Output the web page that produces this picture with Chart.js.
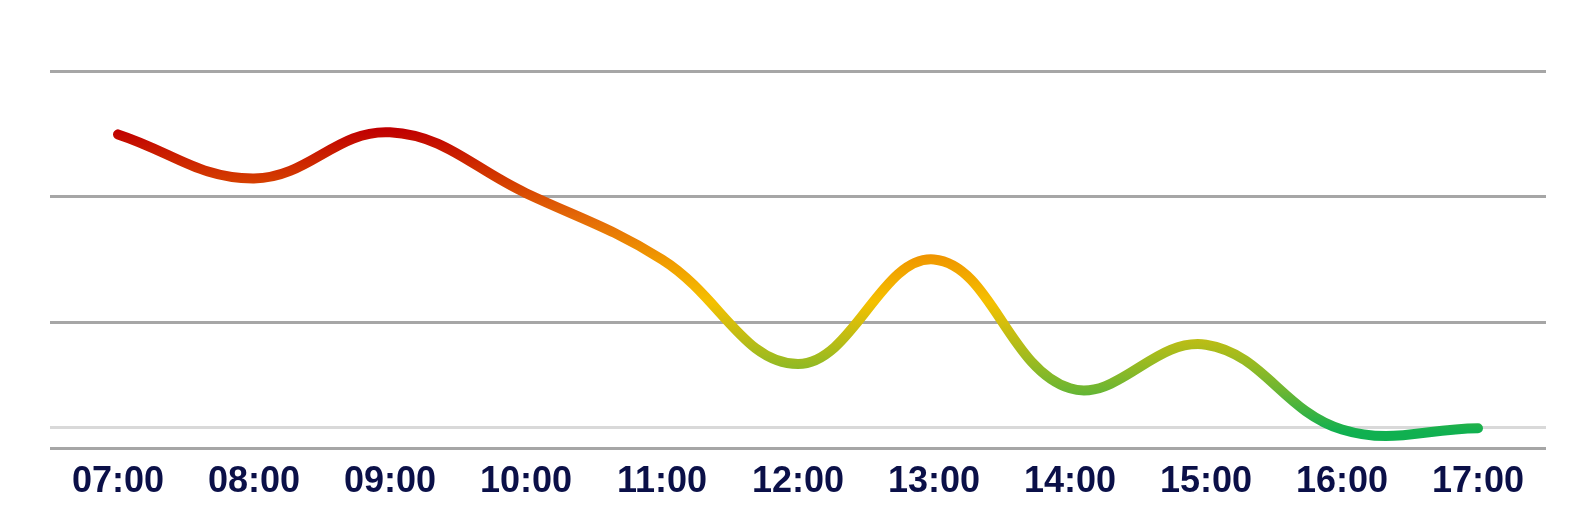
<!DOCTYPE html>
<html lang="en">
<head>
    <meta charset="UTF-8">
    <title>Hourly Trend</title>
    <script src="https://cdn.jsdelivr.net/npm/chart.js"></script>
    <style>
        html, body {
            margin: 0;
            padding: 0;
            background: #ffffff;
        }
        #chart-container {
            width: 1595px;
            height: 532px;
        }
    </style>
</head>
<body>
    <div id="chart-container">
        <canvas id="trendChart"></canvas>
    </div>

    <script>
        const hours = ['07:00', '08:00', '09:00', '10:00', '11:00', '12:00', '13:00', '14:00', '15:00', '16:00', '17:00'];
        const values = [74.9, 64.4, 75.4, 60.9, 45.1, 20.2, 45.1, 14.4, 24.8, 4.6, 4.9];
        const yTicks = [0, 30, 60, 90];
        const baselineValue = 5;

        // colour stops by value (high = red, low = green)
        const colourStops = [
            [76, '#c00000'],
            [64, '#d43c00'],
            [55, '#e46a08'],
            [45, '#f09a00'],
            [35, '#f5c000'],
            [22, '#a2bb1e'],
            [14, '#6db632'],
            [4, '#10b050']
        ];

        function lineGradient(context) {
            const chart = context.chart;
            const area = chart.chartArea;
            if (!area) return '#c00000';
            const y = chart.scales.y;
            const top = y.getPixelForValue(colourStops[0][0]);
            const bottom = y.getPixelForValue(colourStops[colourStops.length - 1][0]);
            const g = chart.ctx.createLinearGradient(0, top, 0, bottom);
            colourStops.forEach(([v, c]) => {
                const p = (y.getPixelForValue(v) - top) / (bottom - top);
                g.addColorStop(Math.min(1, Math.max(0, p)), c);
            });
            return g;
        }

        const ctx = document.getElementById('trendChart').getContext('2d');
        new Chart(ctx, {
            type: 'line',
            data: {
                labels: hours,
                datasets: [
                    {
                        label: 'Value',
                        data: values,
                        borderColor: lineGradient,
                        borderWidth: 10,
                        borderCapStyle: 'round',
                        tension: 0.4,
                        pointRadius: 0,
                        fill: false
                    }
                ]
            },
            options: {
                responsive: true,
                maintainAspectRatio: false,
                animation: false,
                layout: {
                    padding: { left: 50, right: 49, top: 71, bottom: 24 }
                },
                plugins: {
                    legend: { display: false },
                    tooltip: { enabled: false }
                },
                scales: {
                    x: {
                        offset: true,
                        grid: { display: false },
                        border: { display: false },
                        ticks: {
                            color: '#0b1048',
                            padding: 4,
                            font: { family: 'Liberation Sans', size: 36, weight: 'bold' }
                        }
                    },
                    y: {
                        min: yTicks[0],
                        max: yTicks[yTicks.length - 1],
                        afterBuildTicks: (axis) => {
                            axis.ticks = yTicks.concat([baselineValue])
                                .sort((a, b) => a - b)
                                .map(v => ({ value: v }));
                        },
                        ticks: { display: false },
                        border: { display: false },
                        grid: {
                            color: (c) => c.tick && c.tick.value === baselineValue ? '#d9d9d9' : '#a6a6a6',
                            lineWidth: 3,
                            drawTicks: false
                        }
                    }
                }
            }
        });
    </script>
</body>
</html>
